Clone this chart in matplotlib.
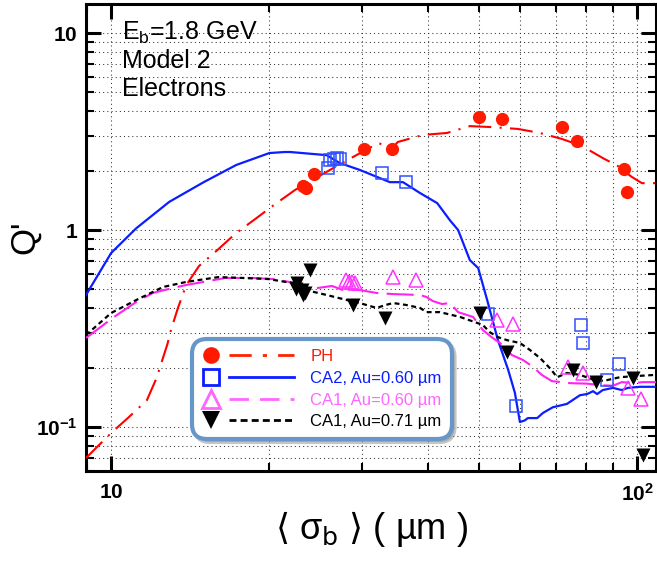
import numpy as np
import matplotlib
matplotlib.use("Agg")
import matplotlib.pyplot as plt
from matplotlib.lines import Line2D
from matplotlib.legend_handler import HandlerBase
from matplotlib.ticker import FixedLocator, NullFormatter, LogLocator

plt.rcParams['font.family'] = ['Liberation Sans', 'DejaVu Sans']
plt.rcParams['mathtext.fontset'] = 'custom'
plt.rcParams['mathtext.rm'] = 'Liberation Sans'
plt.rcParams['mathtext.it'] = 'Liberation Sans:italic'
plt.rcParams['mathtext.bf'] = 'Liberation Sans:bold'
plt.rcParams['mathtext.sf'] = 'Liberation Sans'

# ---------------- data ----------------
ph_x = [23.2, 23.5, 24.3, 30.3, 34.2, 50.1, 55.3, 72.0, 76.9, 94.5, 95.7]
ph_y = [1.67, 1.63, 1.92, 2.58, 2.58, 3.75, 3.66, 3.33, 2.83, 2.04, 1.56]

ph_line_x = [8.96, 10.0, 10.8, 11.7, 12.2, 12.8, 13.0, 13.4, 13.9, 14.7, 16.0, 17.2, 18.9, 20.4,
             22.4, 27.5, 32.2, 34.4, 35.1, 39.2, 43.5, 48.1, 53.2, 59.4, 65.4, 72.0, 78.6,
             86.1, 92.1, 92.6, 97.8, 102.2, 108.8]
ph_line_y = [0.0696, 0.0932, 0.112, 0.137, 0.177, 0.264, 0.311, 0.402, 0.526, 0.657, 0.80, 0.954,
             1.15, 1.34, 1.60, 2.19, 2.76, 2.64, 2.80, 3.04, 3.11, 3.37, 3.33, 3.26, 3.11, 2.90,
             2.67, 2.32, 2.11, 2.07, 1.86, 1.73, 1.73]

ca2_line_x = [8.96, 10.0, 11.16, 12.9, 15.0, 17.3, 20.0, 21.4, 21.9, 25.7, 27.2, 29.7, 33.9, 35.9,
              38.7, 41.7, 44.1, 45.7, 48.1, 49.9, 51.9, 54.4, 56.9, 58.6, 59.9, 61.2, 62.0, 64.6,
              66.3, 69.2, 73.6, 77.9, 80.4, 82.5, 84.0, 86.1, 90.0, 93.6, 96.1, 101.3, 108.7]
ca2_line_y = [0.468, 0.764, 1.02, 1.39, 1.75, 2.14, 2.46, 2.49, 2.49, 2.40, 2.19, 2.02, 1.75, 1.75,
              1.54, 1.37, 1.12, 1.0, 0.704, 0.641, 0.441, 0.276, 0.195, 0.149, 0.106, 0.108, 0.111,
              0.111, 0.118, 0.126, 0.131, 0.145, 0.147, 0.152, 0.147, 0.154, 0.158, 0.154, 0.158,
              0.160, 0.160]
ca2_x = [25.8, 26.1, 26.5, 26.9, 27.2, 32.7, 36.4, 52.1, 58.9, 78.3, 78.9, 87.7, 92.4]
ca2_y = [2.06, 2.27, 2.29, 2.32, 2.29, 1.95, 1.75, 0.375, 0.128, 0.330, 0.267, 0.173, 0.209]

ca1a_line_x = [8.96, 10.13, 11.16, 12.0, 13.1, 13.9, 16.5, 18.6, 20.3, 21.8, 23.9, 24.7, 26.3, 27.6,
               29.7, 32.0, 34.4, 38.7, 39.8, 40.9, 42.6, 44.1, 45.7, 48.8, 50.9, 52.9, 54.9, 57.8,
               60.7, 63.4, 65.9, 68.9, 74.6, 80.4, 85.1, 90.0, 93.6, 98.3, 102.6, 108.7]
ca1a_line_y = [0.283, 0.362, 0.431, 0.479, 0.508, 0.526, 0.571, 0.571, 0.564, 0.545, 0.502, 0.508,
               0.520, 0.496, 0.496, 0.479, 0.473, 0.468, 0.457, 0.436, 0.421, 0.426, 0.383, 0.362,
               0.311, 0.286, 0.267, 0.232, 0.219, 0.202, 0.184, 0.171, 0.167, 0.166, 0.163, 0.162,
               0.169, 0.167, 0.169, 0.169]
ca1a_x = [28.0, 28.4, 28.7, 29.1, 34.4, 38.0, 54.2, 58.1, 74.0, 78.9, 96.1, 101.8]
ca1a_y = [0.557, 0.545, 0.545, 0.538, 0.577, 0.557, 0.349, 0.333, 0.202, 0.188, 0.158, 0.139]

ca1b_line_x = [8.96, 10.0, 11.16, 12.56, 13.89, 16.0, 17.8, 19.9, 21.5, 22.5, 23.9, 25.7, 28.1,
               29.7, 32.0, 33.2, 34.4, 36.5, 38.7, 39.8, 42.2, 46.1, 50.9, 52.5, 54.4, 56.6, 59.9,
               62.6, 65.4, 68.3, 70.5, 73.6, 77.9, 84.0, 87.7, 92.8, 98.3, 108.7]
ca1b_line_y = [0.293, 0.379, 0.441, 0.514, 0.545, 0.577, 0.571, 0.564, 0.545, 0.538, 0.490, 0.468,
               0.441, 0.426, 0.402, 0.416, 0.426, 0.416, 0.402, 0.383, 0.383, 0.362, 0.330, 0.303,
               0.286, 0.276, 0.267, 0.246, 0.224, 0.199, 0.179, 0.188, 0.184, 0.171, 0.173, 0.179,
               0.181, 0.184]
ca1b_x = [23.9, 22.6, 22.5, 23.1, 23.4, 23.2, 28.8, 33.2, 50.3, 56.6, 75.5, 83.6, 98.3, 102.6]
ca1b_y = [0.627, 0.538, 0.502, 0.496, 0.479, 0.468, 0.416, 0.357, 0.379, 0.240, 0.195, 0.169,
          0.177, 0.072]

labels = ['PH', 'CA2, Au=0.60 \u00b5m', 'CA1, Au=0.60 \u00b5m', 'CA1, Au=0.71 \u00b5m']
info_lines = ['E$_{\\mathrm{b}}$=1.8 GeV', 'Model 2', 'Electrons']

# ---------------- styles ----------------
RED = '#ff1a00'
BLUE = '#0a1eff'
MAG = '#ff22f0'
MAG_L = '#ff66ff'
BLK = '#000000'

ph_ls = (0, (11, 4, 1, 4))
ca1a_ls = (0, (13, 4))
ca1b_ls = (0, (2.2, 1.6))

fig = plt.figure(figsize=(6.57, 5.65), dpi=100)
ax = fig.add_axes([0.1309, 0.1669, 0.8676, 0.8255])
ax.set_xscale('log')
ax.set_yscale('log')
ax.set_xlim(8.96, 108.7)
ax.set_ylim(0.060, 14.0)

# lines
ax.plot(ph_line_x, ph_line_y, color='#ff0000', lw=1.5, linestyle=ph_ls, zorder=3)
ax.plot(ca2_line_x, ca2_line_y, color=BLUE, lw=1.6, zorder=3)
ax.plot(ca1a_line_x, ca1a_line_y, color=MAG, lw=1.5, linestyle=ca1a_ls, zorder=3)
ax.plot(ca1b_line_x, ca1b_line_y, color=BLK, lw=1.6, linestyle=ca1b_ls, zorder=3)

# markers
ax.plot(ph_x, ph_y, 'o', color=RED, ms=9.5, mec='none', zorder=4)
ax.plot(ca2_x, ca2_y, 's', mfc='none', mec='#3050ff', ms=9, mew=1.1, zorder=4)
ax.plot(ca1a_x, ca1a_y, '^', mfc='none', mec='#ff33ff', ms=10, mew=1.1, zorder=4)
ax.plot(ca1b_x, ca1b_y, 'v', color=BLK, ms=9.5, mec='none', zorder=4)

# ticks
ax.xaxis.set_major_locator(FixedLocator([10, 100]))
ax.set_xticklabels([r'$\mathbf{10}$', r'$\mathbf{10^{2}}$'])
ax.xaxis.set_minor_locator(LogLocator(base=10, subs=np.arange(2, 10), numticks=20))
ax.xaxis.set_minor_formatter(NullFormatter())
ax.yaxis.set_major_locator(FixedLocator([0.1, 1, 10]))
ax.set_yticklabels([r'$\mathbf{10^{-1}}$', r'$\mathbf{1}$', r'$\mathbf{10}$'])
ax.yaxis.set_minor_locator(LogLocator(base=10, subs=np.arange(2, 10), numticks=20))
ax.yaxis.set_minor_formatter(NullFormatter())

ax.tick_params(which='both', direction='in', top=True, right=True, labelsize=15)
ax.tick_params(which='major', length=11, width=2.2)
ax.tick_params(which='minor', length=6, width=1.5)
ax.tick_params(axis='x', which='major', pad=9)
ax.tick_params(axis='y', which='major', pad=6)
for s in ax.spines.values():
    s.set_linewidth(2.2)

ax.grid(True, which='both', color='0.2', lw=0.75, linestyle=(0, (1, 3)))
ax.set_axisbelow(True)

# labels
ax.set_xlabel('$\\langle$ \u03c3$_{\\mathrm{b}}$ $\\rangle$ ( \u00b5m )', fontsize=26, labelpad=3,
              math_fontfamily='dejavusans')
ax.set_ylabel("Q'", fontsize=25)
ax.yaxis.set_label_coords(-0.078, 0.5)

for i, t in enumerate(info_lines):
    ax.text(0.063, 0.9385 - i * 0.06, t, transform=ax.transAxes, fontsize=18,
            va='center', ha='left')

# legend with marker + separated line
class MarkerLineHandler(HandlerBase):
    def create_artists(self, legend, orig_handle, xdescent, ydescent, width, height,
                       fontsize, trans):
        y = height / 2.0 - ydescent
        x0 = -xdescent
        m = Line2D([x0 + 6.5], [y], linestyle='none', marker=orig_handle.get_marker(),
                   markersize=orig_handle.get_markersize(),
                   markerfacecolor=orig_handle.get_markerfacecolor(),
                   markeredgecolor=orig_handle.get_markeredgecolor(),
                   markeredgewidth=orig_handle.get_markeredgewidth())
        l = Line2D([x0 + 19.5, x0 + width], [y, y], color=orig_handle.get_color(),
                   linestyle=orig_handle.get_linestyle(), linewidth=orig_handle.get_linewidth())
        pat = orig_handle._unscaled_dash_pattern[1]
        if pat:
            l.set_dashes(pat)
        m.set_transform(trans)
        l.set_transform(trans)
        return [l, m]

h_ph = Line2D([], [], marker='o', ms=12, mfc=RED, mec=RED, mew=0, color='#ff2200',
              lw=2.0, linestyle=(0, (8, 4, 1.5, 4)))
h_ca2 = Line2D([], [], marker='s', ms=12, mfc='none', mec=BLUE, mew=2.0, color=BLUE, lw=2.0)
h_ca1a = Line2D([], [], marker='^', ms=13, mfc='none', mec=MAG_L, mew=2.0, color=MAG_L,
                lw=2.0, linestyle=(0, (7, 4)))
h_ca1b = Line2D([], [], marker='v', ms=13, mfc=BLK, mec=BLK, mew=0, color=BLK, lw=2.0,
                linestyle=(0, (2.5, 1.5)))

leg = ax.legend([h_ph, h_ca2, h_ca1a, h_ca1b], labels,
                handler_map={Line2D: MarkerLineHandler()},
                loc='upper left', bbox_to_anchor=(0.186, 0.282), borderaxespad=0,
                fontsize=12, handlelength=5.5, handletextpad=1.0, labelspacing=0.4,
                borderpad=0.6, frameon=True, fancybox=True,
                shadow={'color': '0.55', 'alpha': 0.5})
fr = leg.get_frame()
fr.set_edgecolor('#6797c8')
fr.set_linewidth(3.0)
fr.set_boxstyle('round,pad=0,rounding_size=0.9')
fr.set_alpha(1)
for txt, c in zip(leg.get_texts(), [RED, BLUE, MAG_L, BLK]):
    txt.set_color(c)
leg.set_zorder(6)

fig.savefig('out.png', dpi=100)
